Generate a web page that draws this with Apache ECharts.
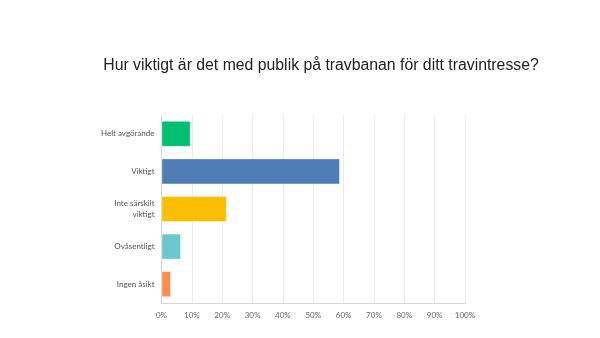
<!DOCTYPE html>
<html><head><meta charset="utf-8">
<script src="https://cdn.jsdelivr.net/npm/echarts@6/dist/echarts.min.js"></script>
<style>html,body{margin:0;padding:0;background:#fff}#c{width:600px;height:338px}</style>
</head><body><div id="c"></div>
<script>
const categories = ['Helt avgörande', 'Viktigt', 'Inte särskilt\nviktigt', 'Ovåsentligt', 'Ingen åsikt'];
const values = [9.6, 58.8, 21.5, 6.4, 3.1];
const colors = ['#00BF6F', '#507CB6', '#F9BE00', '#6BC8CD', '#FF8B4F'];
const xTicks = [0, 10, 20, 30, 40, 50, 60, 70, 80, 90, 100];

const chart = echarts.init(document.getElementById('c'));
chart.setOption({
  animation: false,
  title: {
    text: 'Hur viktigt är det med publik på travbanan för ditt travintresse?',
    left: 316, top: 53, textAlign: 'center',
    textStyle: { fontFamily: 'Liberation Sans, Arial', fontSize: 15.8, fontWeight: 'normal', color: '#222' }
  },
  grid: { left: 161.5, right: 135, top: 115, bottom: 35, containLabel: false },
  xAxis: {
    type: 'value', min: xTicks[0], max: xTicks[xTicks.length - 1], interval: 10,
    axisLine: { show: true, lineStyle: { color: '#d6d6d6' } },
    axisTick: { show: false },
    splitLine: { show: true, lineStyle: { color: '#ececec' } },
    axisLabel: { formatter: '{value}%', color: '#666', fontSize: 8, fontFamily: 'Lato, sans-serif', margin: 8 }
  },
  yAxis: {
    type: 'category', data: categories, inverse: true,
    axisLine: { show: true, lineStyle: { color: '#d6d6d6' } },
    axisTick: { show: false },
    axisLabel: { color: '#555', fontSize: 8, fontFamily: 'Lato, sans-serif', margin: 7, lineHeight: 11, align: 'right' }
  },
  series: [{
    type: 'bar', barWidth: 26,
    data: values.map((v, i) => ({ value: v, itemStyle: { color: colors[i], borderColor: 'rgba(255,255,255,0.35)', borderWidth: 1 } }))
  }]
});
</script></body></html>
